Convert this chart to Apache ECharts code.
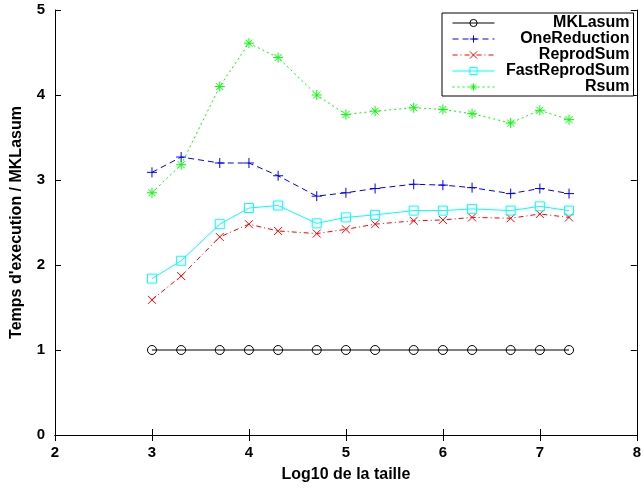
<!DOCTYPE html>
<html>
<head>
<meta charset="utf-8">
<script src="https://cdn.jsdelivr.net/npm/echarts@6/dist/echarts.min.js"></script>
<style>
  html, body { margin: 0; padding: 0; background: #fff; }
  #chart { width: 644px; height: 490px; }
</style>
</head>
<body>
<div id="chart"></div>
<script>
  // log10 of problem size
  var logSizes = [3, 3.301, 3.699, 4, 4.301, 4.699, 5, 5.301, 5.699, 6, 6.301, 6.699, 7, 7.301];
  // time relative to MKLasum
  var mklasum = [1, 1, 1, 1, 1, 1, 1, 1, 1, 1, 1, 1, 1, 1];
  var oneReduction = [3.09, 3.27, 3.20, 3.20, 3.05, 2.81, 2.85, 2.90, 2.95, 2.94, 2.91, 2.84, 2.90, 2.84];
  var reprodSum = [1.59, 1.87, 2.33, 2.48, 2.40, 2.37, 2.42, 2.48, 2.52, 2.53, 2.56, 2.55, 2.60, 2.56];
  var fastReprodSum = [1.84, 2.05, 2.48, 2.67, 2.70, 2.49, 2.56, 2.59, 2.64, 2.64, 2.66, 2.64, 2.69, 2.64];
  var rsum = [2.85, 3.18, 4.10, 4.61, 4.44, 4.00, 3.77, 3.81, 3.85, 3.83, 3.78, 3.67, 3.82, 3.71];

  var font = '"Liberation Sans", Arial, Helvetica, sans-serif';

  function pairs(ys) {
    return logSizes.map(function (x, i) { return [x, ys[i]]; });
  }

  function line(name, ys, color, dash, symbol, size) {
    return {
      name: name,
      type: 'line',
      data: pairs(ys),
      symbol: symbol,
      symbolSize: size,
      showAllSymbol: true,
      color: color,
      lineStyle: { color: color, width: 1, type: dash },
      itemStyle: { color: 'transparent', borderColor: color, borderWidth: 1 },
      emphasis: { disabled: true },
      animation: false
    };
  }

  var plus = 'path://M0,5L10,5M5,0L5,10';
  var cross = 'path://M0,0L10,10M10,0L0,10';
  var star = 'path://M0,5L10,5M5,0L5,10M1.5,1.5L8.5,8.5M8.5,1.5L1.5,8.5';

  var axisCommon = {
    type: 'value',
    axisLine: { show: true, lineStyle: { color: '#000', width: 1 } },
    axisTick: { show: true, inside: true, length: 6, lineStyle: { color: '#000' } },
    splitLine: { show: false }
  };
  var tickFont = { color: '#000', fontFamily: font, fontWeight: 'bold', fontSize: 15 };

  var option = {
    backgroundColor: '#fff',
    animation: false,
    grid: { left: 55, right: 5, top: 10, bottom: 55 },
    xAxis: [
      Object.assign({}, axisCommon, {
        min: 2, max: 8, interval: 1,
        name: 'Log10 de la taille',
        nameLocation: 'middle',
        nameGap: 32,
        nameTextStyle: { color: '#000', fontFamily: font, fontWeight: 'bold', fontSize: 16 },
        axisLabel: Object.assign({ margin: 10 }, tickFont)
      }),
      Object.assign({}, axisCommon, {
        position: 'top', min: 2, max: 8, interval: 1,
        axisLabel: { show: false }
      })
    ],
    yAxis: [
      Object.assign({}, axisCommon, {
        min: 0, max: 5, interval: 1,
        name: 'Temps d\'execution / MKLasum',
        nameLocation: 'middle',
        nameGap: 30,
        nameTextStyle: { color: '#000', fontFamily: font, fontWeight: 'bold', fontSize: 16 },
        axisLabel: Object.assign({ margin: 10 }, tickFont)
      }),
      Object.assign({}, axisCommon, {
        position: 'right', min: 0, max: 5, interval: 1,
        axisLabel: { show: false }
      })
    ],
    legend: {
      orient: 'vertical',
      left: 442,
      top: 13,
      padding: [2, 4, 1, 10],
      itemWidth: 42,
      itemHeight: 9,
      itemGap: 0,
      backgroundColor: '#fff',
      borderColor: '#000',
      borderWidth: 1,
      borderRadius: 0,
      selectedMode: false,
      lineStyle: { width: 1 },
      itemStyle: { borderWidth: 1 },
      formatter: function (name) { return '{n|' + name + '}'; },
      textStyle: {
        rich: {
          n: { width: 130, align: 'right', lineHeight: 16, fontFamily: font, fontWeight: 'bold', fontSize: 16, color: '#000' }
        }
      },
      data: ['MKLasum', 'OneReduction', 'ReprodSum', 'FastReprodSum', 'Rsum']
    },
    series: [
      line('MKLasum', mklasum, '#000000', 'solid', 'circle', 9),
      line('OneReduction', oneReduction, '#0000ff', [6, 4], plus, 10),
      line('ReprodSum', reprodSum, '#ff0000', [5, 3, 1, 3], cross, 8),
      line('FastReprodSum', fastReprodSum, '#00ffff', 'solid', 'rect', 9),
      line('Rsum', rsum, '#00ff00', [2, 3], star, 10)
    ]
  };

  var chart = echarts.init(document.getElementById('chart'));
  chart.setOption(option);
</script>
</body>
</html>
